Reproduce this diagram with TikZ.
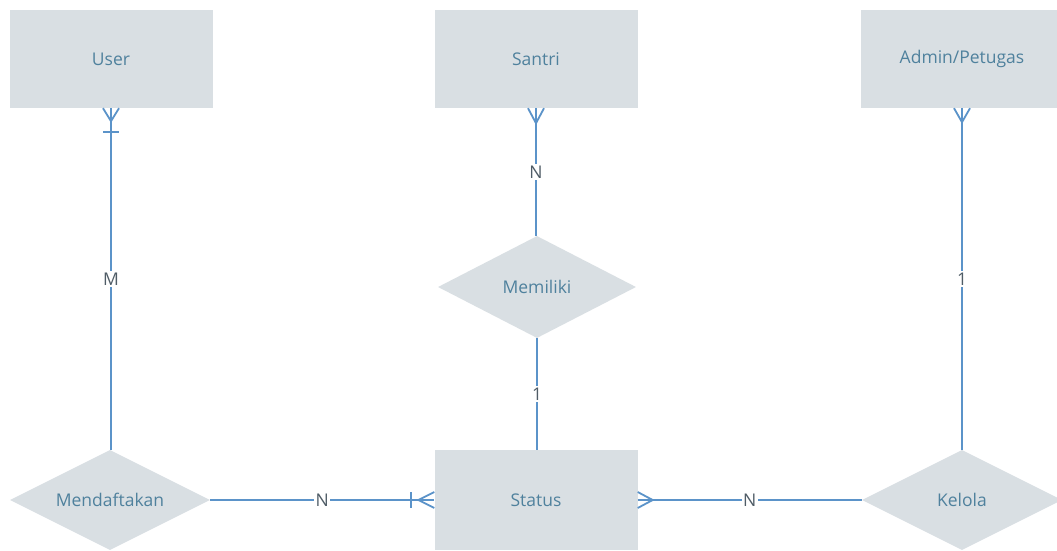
\documentclass[tikz,border=0pt]{standalone}
\usepackage{fontspec}
\setmainfont{Open Sans}
\usetikzlibrary{shapes.geometric,calc}
\definecolor{erfill}{HTML}{D9DFE3}
\definecolor{erline}{HTML}{5B93C9}
\definecolor{ertext}{HTML}{4F819D}
\definecolor{erlabel}{HTML}{4F5C66}
\tikzset{
    every node/.style={font=\fontsize{17.5}{20}\selectfont},
    entity/.style={rectangle,fill=erfill,text=ertext,minimum width=203pt,minimum height=98pt,inner sep=0pt},
    relation/.style={diamond,fill=erfill,text=ertext,minimum width=200pt,minimum height=100pt,inner sep=0pt},
    link/.style={draw=erline,line width=1.8pt},
    card/.style={fill=white,text=erlabel,inner sep=1.5pt}
}
\begin{document}
\begin{tikzpicture}[x=1pt,y=-1pt]
\useasboundingbox[fill=white] (0,0) rectangle (1057,550);

% entities
\node[entity] (user) at (111,59) {User};
\node[entity] (santri) at (536,59) {Santri};
\node[entity] (admin) at (962,59) {Admin/Petugas};
\node[entity,minimum height=100pt] (status) at (536,500) {Status};

% relations
\node[relation,minimum width=198pt,minimum height=102pt] (memiliki) at (537,287) {Memiliki};
\node[relation] (daftar) at (110,500) {\makebox[0pt]{Mendaftakan}};
\node[relation] (kelola) at (962,500) {Kelola};

% connectors
\draw[link] (user.south) -- node[card] {M} (user.south |- daftar.north);
\draw[link] (santri.south) -- node[card] {N} (santri.south |- memiliki.north);
\draw[link] (memiliki.south) -- node[card] {1} (memiliki.south |- status.north);
\draw[link] (admin.south) -- node[card] {1} (admin.south |- kelola.north);
\draw[link] (daftar.east) -- node[card] {N} (status.west);
\draw[link] (status.east) -- node[card] {N} (kelola.west);

% crow's feet
\draw[link] ($(user.south)+(-8,0)$) -- ($(user.south)+(0,13)$) -- ($(user.south)+(8,0)$);
\draw[link] ($(user.south)+(-8,24)$) -- ($(user.south)+(8,24)$);
\draw[link] ($(santri.south)+(-8,0)$) -- ($(santri.south)+(0,15)$) -- ($(santri.south)+(8,0)$);
\draw[link] ($(admin.south)+(-8,0)$) -- ($(admin.south)+(0,14)$) -- ($(admin.south)+(8,0)$);
\draw[link] ($(status.west)+(0,-8)$) -- ($(status.west)+(-16,0)$) -- ($(status.west)+(0,8)$);
\draw[link] ($(status.west)+(-23,-8)$) -- ($(status.west)+(-23,8)$);
\draw[link] ($(status.east)+(0,-8)$) -- ($(status.east)+(15,0)$) -- ($(status.east)+(0,8)$);
\end{tikzpicture}
\end{document}
